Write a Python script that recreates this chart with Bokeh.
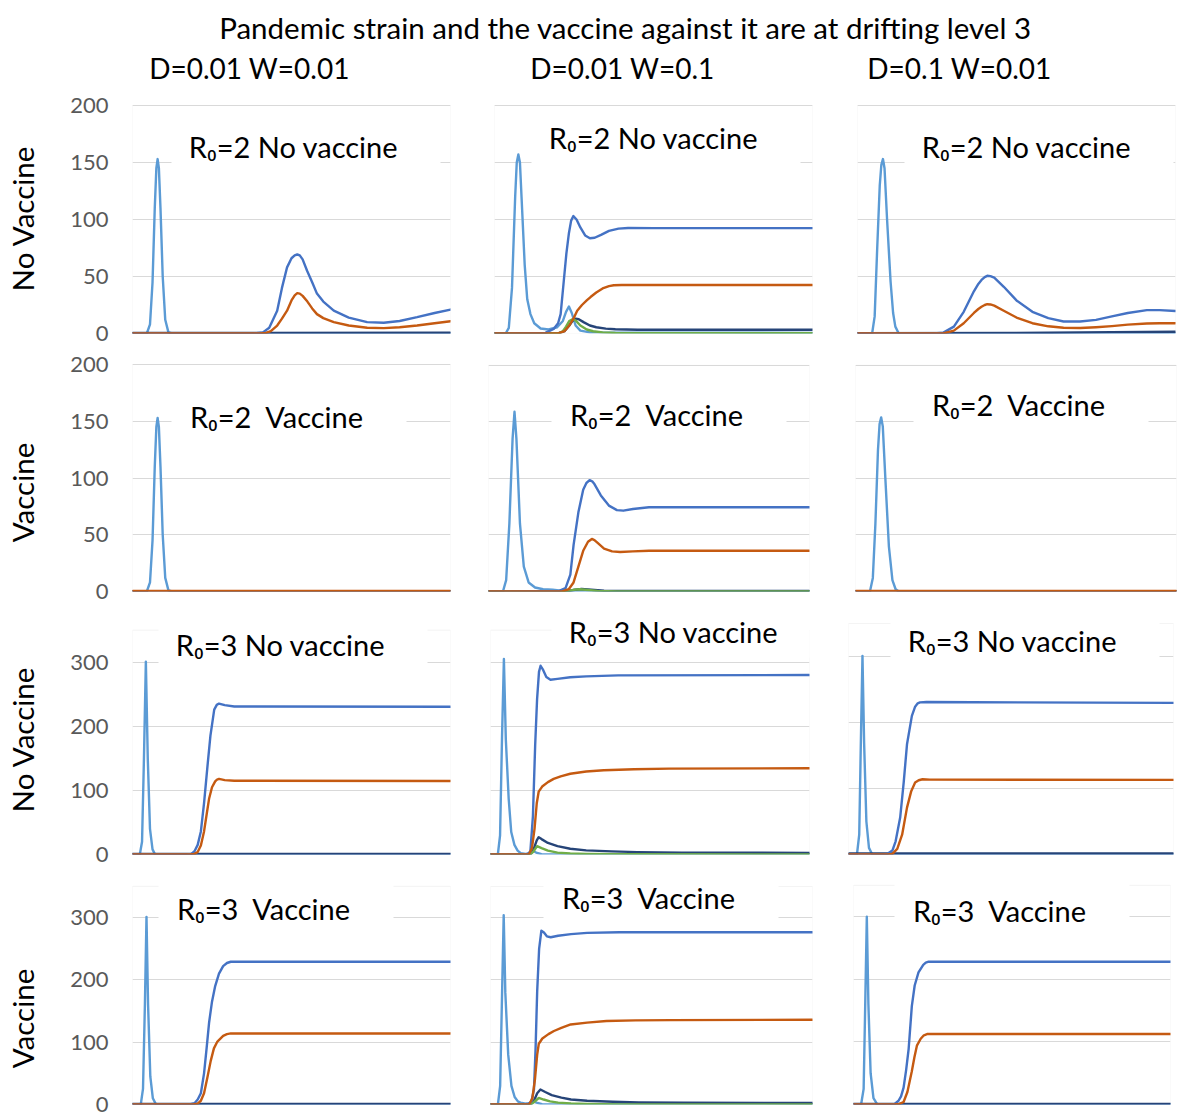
import math
from bokeh.plotting import figure
from bokeh.layouts import row, column
from bokeh.models import Range1d, FixedTicker, Grid, Label, BoxAnnotation
from bokeh.core.properties import value
from bokeh.embed import file_html
from bokeh.resources import INLINE

FONT = "Lato"

# ---------------- texts ----------------
TITLE = "Pandemic strain and the vaccine against it are at drifting level 3"
COL_HEADERS = ["D=0.01 W=0.01", "D=0.01 W=0.1", "D=0.1 W=0.01"]
ROW_LABELS = ["No Vaccine", "Vaccine", "No Vaccine", "Vaccine"]
PANEL_TITLES = ["R\u2080=2 No vaccine", "R\u2080=2 \u00a0Vaccine", "R\u2080=3 No vaccine", "R\u2080=3 \u00a0Vaccine"]
TICKS_R2 = [0, 50, 100, 150, 200]
TICKS_R3 = [0, 100, 200, 300]
YMAX_R2 = 200
YMAX_R3 = 350

# ---------------- data (time in % of simulated period, value) ----------------
# Row 1: R0=2, no vaccine
a1_lb_t = [0, 4.5, 5.5, 6.3, 7.0, 7.5, 7.9, 8.3, 8.8, 9.5, 10.3, 11.3, 12.5, 100]
a1_lb_v = [0, 0, 8, 45, 110, 145, 153, 145, 110, 50, 12, 1, 0, 0]
a1_bl_t = [0, 38, 41, 43, 45.5, 47, 48.6, 50, 51, 51.8, 52.6, 53.5, 54.9, 56.5, 58, 60, 63.3, 68, 73.8, 79, 84, 89.5, 95, 100]
a1_bl_v = [0, 0, 1, 5, 20, 40, 58, 66, 68.5, 69.3, 68.5, 65, 55, 45, 35, 28, 20, 14, 10, 9.4, 11, 14.3, 18, 21]
a1_or_t = [0, 40, 42, 43.5, 45.5, 47, 48.6, 50, 51, 51.8, 52.6, 53.5, 55, 56.5, 58, 60, 63.3, 68, 73.8, 79, 84, 89.5, 95, 100]
a1_or_v = [0, 0, 0.5, 2, 7, 13, 20, 29, 33.5, 35.4, 35, 33, 28, 22, 17, 13.5, 10, 7, 5, 4.7, 5.5, 7, 9, 10.8]
a1_nv_t = [0, 100]
a1_nv_v = [0.4, 0.6]

b1_lb_t = [0, 3.5, 4.5, 5.5, 6.5, 7.0, 7.5, 8.0, 8.5, 9.5, 10.3, 11.3, 12.5, 14.5, 17, 19.7, 21.5, 22.5, 23.4, 24.3, 25.5, 27, 30, 100]
b1_lb_v = [0, 0, 5, 40, 120, 150, 157, 150, 120, 60, 30, 17, 9, 4.4, 3.5, 5.5, 11, 19, 23.7, 18, 7, 2.5, 1, 0.5]
b1_bl_t = [0, 16, 18.6, 20, 20.8, 21.8, 22.6, 23.4, 24.1, 24.8, 25.8, 27, 28.5, 30, 31.5, 33.5, 36, 39, 42, 50, 100]
b1_bl_v = [0, 0.5, 4, 9, 17, 46.5, 70, 88, 99, 103, 100, 93, 86, 83.6, 84, 86.5, 90, 92, 92.5, 92.4, 92.4]
b1_or_t = [0, 20, 22, 23.5, 25, 26, 27.5, 29, 30.2, 32, 34, 36, 37.5, 40, 100]
b1_or_v = [0, 0, 2, 7, 14, 20, 25, 29, 32, 36, 39.5, 41.5, 42.3, 42.5, 42.5]
b1_nv_t = [0, 20, 22, 23.5, 24.5, 25.5, 26.5, 28, 30, 32, 35, 38, 45, 100]
b1_nv_v = [0, 0, 2, 7, 11, 13, 12.5, 10, 7, 5.5, 4.3, 3.7, 3.3, 3.3]
b1_gr_t = [0, 20, 21.5, 22.5, 23.5, 24.5, 25.5, 27, 29, 31, 34, 38, 45, 100]
b1_gr_v = [0, 0, 2, 6, 11, 12.5, 11.5, 7, 3.5, 2, 1, 0.5, 0.3, 0.3]

c1_lb_t = [0, 4.6, 5.4, 6.2, 7.0, 7.5, 8.0, 8.5, 9.3, 10.4, 11.2, 11.9, 12.9, 100]
c1_lb_v = [0, 0, 15, 75, 130, 148, 153, 145, 100, 45.6, 18, 6, 0.5, 0]
c1_bl_t = [0, 24, 27, 30.3, 33.4, 35, 36.6, 38, 39, 40, 40.8, 41.8, 43, 46, 50, 55, 60, 64.8, 70, 75, 80, 85, 91, 95, 100]
c1_bl_v = [0, 0, 0.8, 6, 19, 28, 37, 43.5, 47, 49.5, 50.6, 50.3, 49, 41, 29, 19, 13.5, 10.5, 10.5, 12, 15, 18, 20.5, 20.5, 19.8]
c1_or_t = [0, 27, 30.3, 33.4, 36.6, 38, 39, 40, 40.8, 41.8, 43, 46, 50, 55, 60, 64.8, 70, 75, 80, 85, 91, 95, 100]
c1_or_v = [0, 0, 2.5, 9, 18, 21.5, 23.5, 25, 25.7, 25.5, 24.5, 20, 14, 9, 6.3, 5, 4.8, 5.5, 6.5, 7.8, 8.8, 9, 9]
c1_nv_t = [0, 60, 80, 100]
c1_nv_v = [0.3, 0.6, 1.2, 1.5]

# Row 2: R0=2, vaccine
a2_lb_t = [0, 4.5, 5.5, 6.3, 7.0, 7.5, 7.9, 8.3, 8.8, 9.5, 10.3, 11.3, 12.5, 100]
a2_lb_v = [0, 0, 8, 45, 110, 145, 153, 145, 110, 50, 12, 1, 0, 0]
a2_or_t = [0, 100]
a2_or_v = [0.4, 0.4]
a2_nv_t = [0, 100]
a2_nv_v = [0.2, 0.2]

b2_lb_t = [0, 4.5, 5.5, 6.5, 7.5, 8.1, 8.7, 9.8, 11, 12.5, 14.5, 17, 20, 22, 25, 100]
b2_lb_v = [0, 0, 10, 60, 135, 159, 135, 60, 22, 8, 3.5, 2, 1.5, 1, 0.5, 0.3]
b2_bl_t = [0, 22, 24, 25.5, 26.5, 28, 29.5, 30.5, 31.5, 32.3, 33, 35, 37.5, 40, 42, 45, 50, 100]
b2_bl_v = [0, 0.5, 3, 15, 41, 70, 90, 96, 98.5, 97.5, 95, 85, 76, 72, 71.5, 73, 74.5, 74.5]
b2_or_t = [0, 23, 25, 26.5, 28, 29.5, 31, 32.2, 33, 34, 36, 38.5, 41, 45, 50, 100]
b2_or_v = [0, 0, 2, 8, 22, 36, 44, 46.5, 45.5, 43, 38, 35.5, 35, 35.5, 36, 36]
b2_nv_t = [0, 24, 27, 29, 32, 36, 45, 100]
b2_nv_v = [0, 0, 1.5, 2.2, 1.5, 0.7, 0.4, 0.4]
b2_gr_t = [0, 24, 26.5, 28.5, 31, 34, 40, 100]
b2_gr_v = [0, 0, 1.5, 2, 1.3, 0.5, 0.1, 0]

c2_lb_t = [0, 4.5, 5.4, 6.2, 7.0, 7.5, 8.0, 8.5, 9.3, 10.4, 11.5, 12.5, 13.5, 100]
c2_lb_v = [0, 0, 12, 60, 125, 148, 154, 146, 100, 40, 10, 2, 0, 0]
c2_or_t = [0, 100]
c2_or_v = [0.5, 0.5]
c2_nv_t = [0, 100]
c2_nv_v = [0.3, 0.3]

# Row 3: R0=3, no vaccine
a3_lb_t = [0, 2.3, 3, 3.6, 4.2, 4.8, 5.5, 6.3, 7, 8, 100]
a3_lb_v = [0, 0, 20, 150, 301, 150, 40, 8, 1, 0, 0]
a3_bl_t = [0, 17, 18.5, 19.5, 20.5, 21.5, 22.5, 23.6, 24.5, 25.7, 26.5, 27.2, 29, 32, 100]
a3_bl_v = [0, 0, 1, 5, 15, 36, 80, 139, 185, 226, 233.5, 235.5, 233, 231, 230.5]
a3_or_t = [0, 18, 19.5, 20.5, 21.5, 22.5, 23.3, 24.1, 25, 26, 26.6, 27.2, 29, 32, 100]
a3_or_v = [0, 0, 1, 4, 14, 36, 62, 87.5, 105, 114, 117, 118, 116, 115, 114.8]
a3_nv_t = [0, 100]
a3_nv_v = [1, 1]

b3_lb_t = [0, 2.3, 3, 3.6, 4.2, 4.8, 5.7, 6.5, 7.5, 8.5, 9.5, 11, 12.3, 13.3, 14.3, 16, 100]
b3_lb_v = [0, 0, 30, 180, 305, 180, 87, 35, 15, 6, 2, 1, 2, 6, 3, 0.5, 0.2]
b3_bl_t = [0, 11.5, 12.5, 13.3, 14, 14.6, 15.2, 15.7, 16.5, 17.5, 18.8, 21, 25, 30, 40, 100]
b3_bl_v = [0, 0, 5, 60, 170, 242, 285, 294.5, 288, 277, 272.7, 274, 276.5, 278, 279.5, 280]
b3_or_t = [0, 12, 13, 13.8, 14.5, 15.1, 16.2, 18, 19.8, 22, 25, 30, 35.5, 45, 56, 100]
b3_or_v = [0, 0, 10, 40, 80, 98, 106, 113, 118, 122, 126, 129.5, 131.5, 133, 134, 134.5]
b3_nv_t = [0, 12.5, 13.5, 14.5, 15.1, 16, 18, 21, 25, 30, 38, 46, 60, 100]
b3_nv_v = [0, 0, 8, 22, 27, 24, 18, 13, 9, 6.5, 4.8, 3.7, 3, 2.6]
b3_gr_t = [0, 12.5, 13.5, 14.6, 16, 18, 21, 25, 30, 40, 100]
b3_gr_v = [0, 0, 5, 13, 10, 6, 3, 1.5, 0.8, 0.3, 0.2]

c3_lb_t = [0, 2.6, 3.3, 3.8, 4.3, 4.8, 5.5, 6.3, 7.2, 8, 100]
c3_lb_v = [0, 0, 30, 170, 301, 170, 50, 10, 1, 0, 0]
c3_bl_t = [0, 10.5, 12, 13.5, 14.5, 15.9, 17, 18, 19.5, 20.5, 21.3, 22, 24, 100]
c3_bl_v = [0, 0, 1, 6, 20, 56, 110, 167, 210, 224, 229, 230.5, 231, 229.8]
c3_or_t = [0, 12, 13.5, 15, 16.5, 18, 19.3, 20.5, 21.6, 22.8, 25, 100]
c3_or_v = [0, 0, 1, 8.6, 30, 71, 96, 109, 112.5, 114, 113.5, 113]
c3_nv_t = [0, 100]
c3_nv_v = [1.5, 1.5]

# Row 4: R0=3, vaccine
a4_lb_t = [0, 2.6, 3.3, 3.9, 4.4, 4.9, 5.6, 6.4, 7.3, 8.2, 100]
a4_lb_v = [0, 0, 25, 160, 301, 160, 45, 10, 1, 0, 0]
a4_bl_t = [0, 18, 19.5, 20.5, 21.5, 22.5, 23.3, 24.1, 25, 26, 27.2, 28.5, 29.7, 30.9, 100]
a4_bl_v = [0, 0, 2, 8, 18, 50, 90, 132, 165, 190, 210, 222, 227, 229, 229]
a4_or_t = [0, 19, 20.5, 21.5, 22.5, 23.5, 24.6, 25.6, 26.7, 28.5, 29.7, 30.9, 100]
a4_or_v = [0, 0, 1.5, 6, 18, 42, 70, 90, 101, 110, 112.8, 114, 114]
a4_nv_t = [0, 100]
a4_nv_v = [1, 1]

b4_lb_t = [0, 2.3, 3, 3.6, 4.1, 4.6, 5.5, 6.5, 7.5, 8.5, 9.3, 11, 12.3, 13.3, 14.3, 16, 100]
b4_lb_v = [0, 0, 30, 180, 304, 180, 80, 30, 12, 5, 3, 1.5, 2, 5, 3, 0.5, 0.2]
b4_bl_t = [0, 11.5, 12.7, 13.5, 14, 14.5, 15.1, 15.8, 16.6, 17.5, 18.7, 21, 25, 30, 40, 100]
b4_bl_v = [0, 0, 5, 24, 90, 182, 250, 279, 276, 270, 268.5, 271, 273.5, 275.5, 276.5, 276.5]
b4_or_t = [0, 12, 13, 13.8, 14.5, 15, 16.1, 18, 19.7, 22, 24.9, 30, 36, 45, 56, 100]
b4_or_v = [0, 0, 10, 40, 80, 97.5, 106, 113, 118, 123, 128.5, 131.5, 134, 135, 135.5, 136]
b4_nv_t = [0, 12.5, 13.5, 14.5, 15.5, 17, 19, 22, 25, 30, 38, 46, 60, 100]
b4_nv_v = [0, 0, 6, 18, 24, 20, 15, 11, 8, 6, 4.3, 3.3, 2.8, 2.5]
b4_gr_t = [0, 12.5, 13.5, 15, 16.5, 18.5, 21, 25, 30, 40, 100]
b4_gr_v = [0, 0, 4, 10.5, 8, 5, 3, 1.5, 0.7, 0.2, 0.1]

c4_lb_t = [0, 2.4, 3.2, 3.7, 4.2, 4.7, 5.4, 6.3, 7.4, 8.3, 100]
c4_lb_v = [0, 0, 25, 160, 300, 160, 50, 10, 1, 0, 0]
c4_bl_t = [0, 11.5, 13, 14.2, 15, 15.8, 16.6, 17.4, 18.4, 19.3, 20.5, 22, 22.8, 23.7, 100]
c4_bl_v = [0, 0, 1, 6, 13, 27, 55, 89, 157, 190, 211, 223, 226.5, 228, 228]
c4_or_t = [0, 13, 14.5, 15.8, 17, 18.4, 19.2, 20, 21.2, 22.2, 23.2, 100]
c4_or_v = [0, 0, 1, 4, 20, 53, 75, 94, 105, 110.5, 112.5, 112.5]
c4_nv_t = [0, 100]
c4_nv_v = [1, 1]

# ---------------- styles ----------------
C_LB = "#5B9BD5"
C_BL = "#4472C4"
C_OR = "#C55A11"
C_NV = "#264478"
C_GR = "#70AD47"
GRID = "#D9D9D9"
LW = 2.4


# drawing order: light blue, navy, green, blue, orange
def S(nv=None, gr=None, lb=None, bl=None, orr=None):
    out = []
    for pair, col in ((lb, C_LB), (nv, C_NV), (gr, C_GR), (bl, C_BL), (orr, C_OR)):
        if pair is not None:
            out.append((pair[0], pair[1], col))
    return out


SERIES = [
    [S(nv=(a1_nv_t, a1_nv_v), lb=(a1_lb_t, a1_lb_v), bl=(a1_bl_t, a1_bl_v), orr=(a1_or_t, a1_or_v)),
     S(nv=(b1_nv_t, b1_nv_v), gr=(b1_gr_t, b1_gr_v), lb=(b1_lb_t, b1_lb_v), bl=(b1_bl_t, b1_bl_v), orr=(b1_or_t, b1_or_v)),
     S(nv=(c1_nv_t, c1_nv_v), lb=(c1_lb_t, c1_lb_v), bl=(c1_bl_t, c1_bl_v), orr=(c1_or_t, c1_or_v))],
    [S(nv=(a2_nv_t, a2_nv_v), lb=(a2_lb_t, a2_lb_v), orr=(a2_or_t, a2_or_v)),
     S(nv=(b2_nv_t, b2_nv_v), gr=(b2_gr_t, b2_gr_v), lb=(b2_lb_t, b2_lb_v), bl=(b2_bl_t, b2_bl_v), orr=(b2_or_t, b2_or_v)),
     S(nv=(c2_nv_t, c2_nv_v), lb=(c2_lb_t, c2_lb_v), orr=(c2_or_t, c2_or_v))],
    [S(nv=(a3_nv_t, a3_nv_v), lb=(a3_lb_t, a3_lb_v), bl=(a3_bl_t, a3_bl_v), orr=(a3_or_t, a3_or_v)),
     S(nv=(b3_nv_t, b3_nv_v), gr=(b3_gr_t, b3_gr_v), lb=(b3_lb_t, b3_lb_v), bl=(b3_bl_t, b3_bl_v), orr=(b3_or_t, b3_or_v)),
     S(nv=(c3_nv_t, c3_nv_v), lb=(c3_lb_t, c3_lb_v), bl=(c3_bl_t, c3_bl_v), orr=(c3_or_t, c3_or_v))],
    [S(nv=(a4_nv_t, a4_nv_v), lb=(a4_lb_t, a4_lb_v), bl=(a4_bl_t, a4_bl_v), orr=(a4_or_t, a4_or_v)),
     S(nv=(b4_nv_t, b4_nv_v), gr=(b4_gr_t, b4_gr_v), lb=(b4_lb_t, b4_lb_v), bl=(b4_bl_t, b4_bl_v), orr=(b4_or_t, b4_or_v)),
     S(nv=(c4_nv_t, c4_nv_v), lb=(c4_lb_t, c4_lb_v), bl=(c4_bl_t, c4_bl_v), orr=(c4_or_t, c4_or_v))],
]

# ---------------- layout (page pixel geometry) ----------------
HEAD_H = 85
LABEL_W = 64
ROW_Y = [85, 345, 605, 866]
ROW_H = [260, 260, 261, 254]
# per panel: figure x0, width, frame left, frame top, frame width, frame height, title centre (x, y)
GEOM = [
    [(64, 406, 132, 105, 318, 228, 293, 146), (470, 365, 494, 105, 318, 228, 653, 137), (835, 343, 857, 105, 318, 228, 1026, 146)],
    [(64, 406, 132, 364, 318, 227, 276, 416), (470, 365, 488, 365, 321, 227, 656, 414), (835, 343, 855, 365, 321, 228, 1018, 404)],
    [(64, 406, 132, 630, 318, 227, 280, 644), (470, 360, 490, 630, 319, 227, 673, 631), (830, 348, 848, 623, 325, 231, 1012, 640)],
    [(64, 406, 132, 886, 318, 220, 263, 908), (470, 365, 490, 886, 322, 218, 648, 897), (835, 343, 853, 885, 317, 221, 999, 910)],
]
TITLE_TEXT_W = [208, 174, 208, 174]


def make_panel(r, c):
    x0, w, fl, ft, fw, fh, tx, ty = GEOM[r][c]
    y0, h = ROW_Y[r], ROW_H[r]
    ymax = YMAX_R2 if r < 2 else YMAX_R3
    ticks = TICKS_R2 if r < 2 else TICKS_R3
    show_axis = (c == 0)
    top_pad = ft - y0                      # space above plot area -> part of the frame
    yend = ymax * (fh + top_pad) / fh
    p = figure(width=w, height=h, x_range=Range1d(0, 100), y_range=Range1d(0, yend),
               x_axis_type=None, y_axis_type=("linear" if show_axis else None),
               toolbar_location=None, output_backend="svg",
               min_border_left=fl - x0, min_border_right=x0 + w - fl - fw,
               min_border_top=0, min_border_bottom=y0 + h - ft - fh,
               outline_line_color=None, background_fill_color="white",
               border_fill_color="white")
    if show_axis:
        ax = p.yaxis[0]
        ax.ticker = FixedTicker(ticks=ticks)
        ax.axis_line_color = None
        ax.major_tick_line_color = None
        ax.minor_tick_line_color = None
        ax.major_tick_out = 0
        ax.major_tick_in = 0
        ax.minor_tick_out = 0
        ax.minor_tick_in = 0
        ax.major_label_text_font = FONT
        ax.major_label_text_font_size = "22px"
        ax.major_label_text_color = "#595959"
        ax.major_label_standoff = 24
        p.ygrid.grid_line_color = GRID
    else:
        p.add_layout(Grid(dimension=1, ticker=FixedTicker(ticks=ticks), grid_line_color=GRID))

    # plot-area border
    p.add_layout(BoxAnnotation(left=0, right=100, bottom=0, top=ymax, fill_alpha=0,
                               line_color=GRID, line_width=1, level="underlay"))

    def dx(px):
        return (px - fl) / fw * 100.0

    def dy(py):
        return (ft + fh - py) / fh * ymax

    # white title box (as in the source text boxes)
    tw = TITLE_TEXT_W[r]
    p.add_layout(BoxAnnotation(left=dx(tx - tw / 2 - 18), right=dx(tx + tw / 2 + 43),
                               top=dy(ty - 27), bottom=dy(ty + 27),
                               fill_color="white", fill_alpha=1.0, line_color=None,
                               level="underlay"))

    for t, v, col in SERIES[r][c]:
        p.line(t, v, line_color=col, line_width=LW, line_join="round", line_cap="round")

    p.add_layout(Label(x=dx(tx), y=dy(ty), text=PANEL_TITLES[r], text_align="center",
                       text_baseline="middle", text_font=FONT, text_font_size="29px",
                       text_color="black"))
    return p


# header figure
total_w = LABEL_W + sum(g[1] for g in GEOM[0])
head = figure(width=total_w, height=HEAD_H, x_range=Range1d(0, total_w), y_range=Range1d(HEAD_H, 0),
              x_axis_type=None, y_axis_type=None, toolbar_location=None, output_backend="svg",
              min_border=0, outline_line_color=None)
head.text(x=[625], y=[27], text=[TITLE], text_font=value(FONT), text_font_size=value("29.5px"),
          text_align="center", text_baseline="middle", text_color="black")
head.text(x=[249, 622, 959], y=[67, 67, 67], text=COL_HEADERS, text_font=value(FONT),
          text_font_size=value("28px"), text_align="center", text_baseline="middle",
          text_color="black")

# row-label figure
body_h = sum(ROW_H)
lab = figure(width=LABEL_W, height=body_h, x_range=Range1d(0, LABEL_W), y_range=Range1d(body_h, 0),
             x_axis_type=None, y_axis_type=None, toolbar_location=None, output_backend="svg",
             min_border=0, outline_line_color=None)
lab.text(x=[22, 22, 22, 22], y=[133, 407, 654, 933], text=ROW_LABELS, angle=math.pi / 2,
         text_font=value(FONT), text_font_size=value("29.5px"), text_align="center",
         text_baseline="middle", text_color="black")

rows = []
for r in range(4):
    rows.append(row(*[make_panel(r, c) for c in range(3)], spacing=0))

layout = column(head, row(lab, column(*rows, spacing=0), spacing=0), spacing=0)

open("out.html", "w").write(file_html(layout, INLINE))
